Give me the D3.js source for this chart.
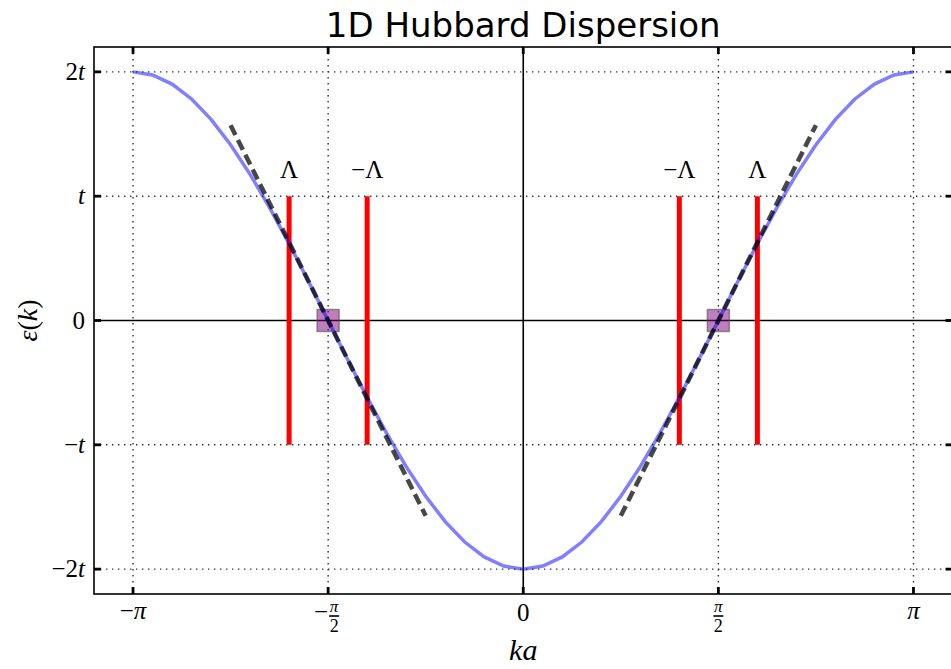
<!DOCTYPE html>
<html><head><meta charset="utf-8">
<script src="https://cdn.jsdelivr.net/npm/d3@7"></script>
<style>body{margin:0;background:#fff}svg{display:block}</style>
</head><body>
<svg id="c" width="951" height="669"></svg>
<script>
// k in units of pi, and dispersion in units of t
const kOverPi = [-1,-0.95,-0.9,-0.85,-0.8,-0.75,-0.7,-0.65,-0.6,-0.55,-0.5,-0.45,-0.4,-0.35,-0.3,-0.25,-0.2,-0.15,-0.1,-0.05,0,
  0.05,0.1,0.15,0.2,0.25,0.3,0.35,0.4,0.45,0.5,0.55,0.6,0.65,0.7,0.75,0.8,0.85,0.9,0.95,1];
const energy = [2.0,1.975,1.902,1.782,1.618,1.414,1.176,0.908,0.618,0.313,0,-0.313,-0.618,-0.908,-1.176,-1.414,-1.618,-1.782,-1.902,-1.975,-2.0,
  -1.975,-1.902,-1.782,-1.618,-1.414,-1.176,-0.908,-0.618,-0.313,0,0.313,0.618,0.908,1.176,1.414,1.618,1.782,1.902,1.975,2.0];
// linearised dispersion around the Fermi points
const linearLeft = [{k:-0.75,e:1.571},{k:-0.25,e:-1.571}];
const linearRight = [{k:0.25,e:-1.571},{k:0.75,e:1.571}];
// cutoff lines
const cutoffK = [-0.6,-0.4,0.4,0.6];
const cutoffLabels = ["Λ","−Λ","−Λ","Λ"];
const cutoffRange = [-1,1];
const fermiK = [-0.5,0.5];
const xTickVals = [-1,-0.5,0,0.5,1];
const yTickVals = [2,1,0,-1,-2];
const yTickLabels = ["2t","t","0","−t","−2t"];

const svg = d3.select("#c");
const L=94, R=952.5, T=47, B=594;
const x = d3.scaleLinear().domain([-1.1,1.1]).range([L,R]);
const y = d3.scaleLinear().domain([-2.2,2.2]).range([B,T]);
const serif = "'Liberation Serif','DejaVu Serif',serif";

svg.append("defs").append("clipPath").attr("id","clip").append("rect")
  .attr("x",L).attr("y",T).attr("width",R-L).attr("height",B-T);
const g = svg.append("g").attr("clip-path","url(#clip)");

// grid
xTickVals.forEach(v=>{ if(v!==0) g.append("line").attr("x1",x(v)).attr("x2",x(v)).attr("y1",T).attr("y2",B)
  .attr("stroke","#333").attr("stroke-width",1.4).attr("stroke-dasharray","1.4,4.6"); });
yTickVals.forEach(v=>{ if(v!==0) g.append("line").attr("x1",L).attr("x2",R).attr("y1",y(v)).attr("y2",y(v))
  .attr("stroke","#333").attr("stroke-width",1.4).attr("stroke-dasharray","1.4,4.6"); });
// zero axes
g.append("line").attr("x1",x(0)).attr("x2",x(0)).attr("y1",T).attr("y2",B).attr("stroke","#000").attr("stroke-width",1.6);
g.append("line").attr("x1",L).attr("x2",R).attr("y1",y(0)).attr("y2",y(0)).attr("stroke","#000").attr("stroke-width",1.6);

// fermi points squares
const sq=22;
fermiK.forEach(k=>{
  g.append("rect").attr("x",x(k)-sq/2).attr("y",y(0)-sq/2).attr("width",sq).attr("height",sq)
   .attr("fill","rgba(128,0,128,0.5)").attr("stroke","rgba(80,80,80,0.6)").attr("stroke-width",1.5);
});

// cutoff lines
cutoffK.forEach((k,i)=>{
  g.append("line").attr("x1",x(k)).attr("x2",x(k)).attr("y1",y(cutoffRange[0])).attr("y2",y(cutoffRange[1]))
   .attr("stroke","#ff0000").attr("stroke-width",5);
  svg.append("text").attr("x",x(k)).attr("y",y(1.15)).attr("text-anchor","middle")
   .attr("font-family",serif).attr("font-size",25).text(cutoffLabels[i]);
});

// dispersion
const line = d3.line().x((d,i)=>x(kOverPi[i])).y(d=>y(d));
g.append("path").attr("d",line(energy)).attr("fill","none").attr("stroke","rgba(0,0,255,0.5)").attr("stroke-width",3.5);

// linear approximations
const lin = d3.line().x(d=>x(d.k)).y(d=>y(d.e));
[linearLeft,linearRight].forEach(seg=>{
  g.append("path").attr("d",lin(seg)).attr("fill","none").attr("stroke","rgba(0,0,0,0.72)")
   .attr("stroke-width",4.5).attr("stroke-dasharray","11,5.5");
});

// frame
svg.append("rect").attr("x",L).attr("y",T).attr("width",R-L).attr("height",B-T)
  .attr("fill","none").attr("stroke","#000").attr("stroke-width",1.6);

// ticks (inward, all sides)
const tl=7;
xTickVals.forEach(v=>{
  svg.append("line").attr("x1",x(v)).attr("x2",x(v)).attr("y1",B).attr("y2",B-tl).attr("stroke","#000").attr("stroke-width",2.8);
  svg.append("line").attr("x1",x(v)).attr("x2",x(v)).attr("y1",T).attr("y2",T+tl).attr("stroke","#000").attr("stroke-width",2.8);
});
yTickVals.forEach(v=>{
  svg.append("line").attr("x1",L).attr("x2",L+tl).attr("y1",y(v)).attr("y2",y(v)).attr("stroke","#000").attr("stroke-width",2.8);
  svg.append("line").attr("x1",R).attr("x2",R-tl).attr("y1",y(v)).attr("y2",y(v)).attr("stroke","#000").attr("stroke-width",2.8);
});

// x tick labels
function xLabel(v){
  if(v===0){
    svg.append("text").attr("x",x(v)).attr("y",B+27).attr("text-anchor","middle").attr("font-family",serif).attr("font-size",25).text("0");
  } else if(Math.abs(v)===1){
    const t = svg.append("text").attr("x",x(v)).attr("y",B+25).attr("text-anchor","middle").attr("font-family",serif).attr("font-size",25);
    if(v<0) t.append("tspan").text("−");
    t.append("tspan").attr("font-style","italic").text("π");
  } else {
    const cx=x(v)+(v<0?6:0);
    if(v<0) svg.append("text").attr("x",cx-6).attr("y",B+26).attr("text-anchor","end").attr("font-family",serif).attr("font-size",25).text("−");
    svg.append("text").attr("x",cx).attr("y",B+18).attr("text-anchor","middle").attr("font-family",serif).attr("font-size",17).attr("font-style","italic").text("π");
    svg.append("line").attr("x1",cx-5).attr("x2",cx+5).attr("y1",B+22).attr("y2",B+22).attr("stroke","#000").attr("stroke-width",1.6);
    svg.append("text").attr("x",cx).attr("y",B+38).attr("text-anchor","middle").attr("font-family",serif).attr("font-size",18).text("2");
  }
}
xTickVals.forEach(xLabel);

// y tick labels
yTickVals.forEach((v,i)=>{
  const lab=yTickLabels[i];
  const t=svg.append("text").attr("x",L-9).attr("y",y(v)+8).attr("text-anchor","end")
    .attr("font-family",serif).attr("font-size",25);
  const m = lab.match(/^(−?)(\d*)(t?)$/);
  if(m[1]) t.append("tspan").text(m[1]);
  if(m[2]) t.append("tspan").text(m[2]);
  if(m[3]) t.append("tspan").attr("font-style","italic").text("t");
});

// axis labels
svg.append("text").attr("x",x(0)).attr("y",660).attr("text-anchor","middle").attr("font-family",serif)
  .attr("font-size",30).attr("font-style","italic").text("ka");
const yl=svg.append("text").attr("transform",`translate(37,${y(0)}) rotate(-90)`).attr("text-anchor","middle")
  .attr("font-family",serif).attr("font-size",28);
yl.append("tspan").attr("font-style","italic").text("ε");
yl.append("tspan").text("(");
yl.append("tspan").attr("font-style","italic").text("k");
yl.append("tspan").text(")");

// title
svg.append("text").attr("x",x(0)).attr("y",37).attr("text-anchor","middle")
  .attr("font-family","'DejaVu Sans',sans-serif").attr("font-size",34).text("1D Hubbard Dispersion");
</script>
</body></html>
